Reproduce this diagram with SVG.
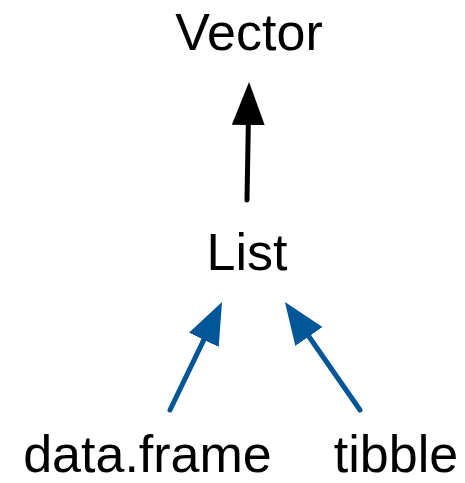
<svg xmlns="http://www.w3.org/2000/svg" width="465" height="483" viewBox="0 0 465 483">
  <style>
    .label { font-family: "Liberation Sans", Arial, Helvetica, sans-serif; font-size: 52px; fill: #000; text-anchor: middle; }
    .edge { fill: none; stroke-width: 5; stroke-linecap: round; }
    .black { stroke: #000; }
    .blue { stroke: #015697; }
  </style>
  <defs>
    <marker id="head-black" markerUnits="userSpaceOnUse" markerWidth="44" markerHeight="36" viewBox="0 -18 44 36" refX="0" refY="0" orient="auto">
      <path d="M0,-16.5 L43,0 L0,16.5 z" fill="#000"/>
    </marker>
    <marker id="head-blue" markerUnits="userSpaceOnUse" markerWidth="44" markerHeight="36" viewBox="0 -18 44 36" refX="0" refY="0" orient="auto">
      <path d="M0,-16.5 L42,0 L0,16.5 z" fill="#015697"/>
    </marker>
  </defs>

  <g id="connectors">
    <line class="edge black" x1="247" y1="200" x2="248.3" y2="125" marker-end="url(#head-black)"/>
    <line class="edge blue" x1="170" y1="410" x2="203.8" y2="339.8" marker-end="url(#head-blue)"/>
    <line class="edge blue" x1="360" y1="410" x2="308.9" y2="336.5" marker-end="url(#head-blue)"/>
  </g>

  <g id="node-vector">
    <text class="label" x="249" y="50">Vector</text>
  </g>
  <g id="node-list">
    <text class="label" x="247" y="270">List</text>
  </g>
  <g id="node-dataframe">
    <text class="label" x="147.5" y="472">data.frame</text>
  </g>
  <g id="node-tibble">
    <text class="label" x="396" y="472">tibble</text>
  </g>
</svg>
